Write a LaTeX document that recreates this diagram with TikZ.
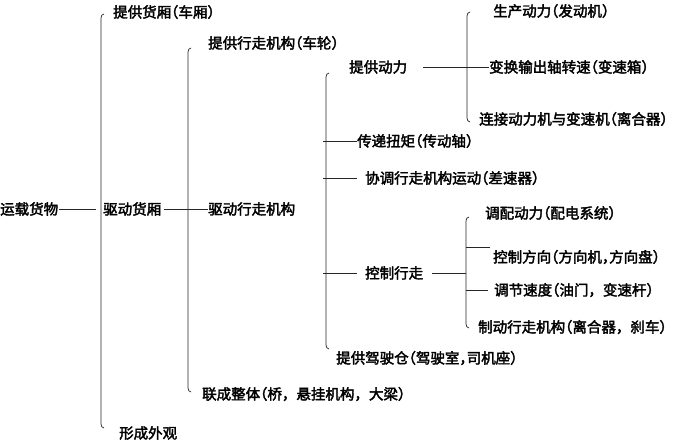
\documentclass[tikz,border=0pt]{standalone}
\usepackage{fontspec}
\newfontfamily\cjk{Noto Sans CJK SC}[FakeBold=2.5]
\usetikzlibrary{calc}
\newcommand\LPn{\kern-.5em（}
\newcommand\RPn{）\kern-.4em}
\newcommand\NCm{，\kern-.5em}
\newcommand\brk[2]{\draw[ln] ($(#1)+(3,-1)$) to[out=180,in=90] ($(#1)+(0,3)$) -- ($(#2)+(0,-3)$) to[out=-90,in=180] ($(#2)+(3,1)$);}
\begin{document}
\begin{tikzpicture}[x=1bp,y=-1bp,
  txt/.style={anchor=west,inner sep=0pt,font=\cjk\fontsize{14.5bp}{16bp}\selectfont},
  ln/.style={line width=0.7bp,black!85}]
\useasboundingbox (0,0) rectangle (674,441);
% level 0
\node[txt] (n0) at (0,209) {运载货物};
% level 1
\node[txt] (n1a) at (113,12) {提供货厢\LPn 车厢\RPn};
\node[txt] (n1b) at (103,209) {驱动货厢};
\node[txt] (n1c) at (119,433) {形成外观};
% level 2
\node[txt] (n2a) at (208,43) {提供行走机构\LPn 车轮\RPn};
\node[txt] (n2b) at (208,209) {驱动行走机构};
\node[txt] (n2c) at (202,394) {联成整体\LPn 桥，悬挂机构，大梁\RPn};
% level 3
\node[txt] (n3a) at (349,67) {提供动力};
\node[txt] (n3b) at (357,141) {传递扭矩\LPn 传动轴\RPn};
\node[txt] (n3c) at (365,178) {协调行走机构运动\LPn 差速器\RPn};
\node[txt] (n3d) at (365,273) {控制行走};
\node[txt] (n3e) at (336,358) {提供驾驶仓\LPn 驾驶室\NCm 司机座\RPn};
% level 4
\node[txt] (n4a) at (493,11) {生产动力\LPn 发动机\RPn};
\node[txt] (n4b) at (489,67) {变换输出轴转速\LPn 变速箱\RPn};
\node[txt] (n4c) at (479,119) {连接动力机与变速机\LPn 离合器\RPn};
\node[txt] (n5a) at (485,213) {调配动力\LPn 配电系统\RPn};
\node[txt] (n5b) at (493,257) {控制方向\LPn 方向机\NCm 方向盘\RPn};
\node[txt] (n5c) at (494,290) {调节速度\LPn 油门，变速杆\RPn};
\node[txt] (n5d) at (478,327) {制动行走机构\LPn 离合器，刹车\RPn};
% bracket ends
\coordinate (B1t) at (101,15);  \coordinate (B1b) at (101,427);
\coordinate (B2t) at (188,49);  \coordinate (B2b) at (188,391);
\coordinate (B3t) at (326,74);  \coordinate (B3b) at (326,348);
\coordinate (B4t) at (467,13);  \coordinate (B4b) at (467,121);
\coordinate (B5t) at (466,218); \coordinate (B5b) at (466,327);
\brk{B1t}{B1b}
\brk{B2t}{B2b}
\brk{B3t}{B3b}
\brk{B4t}{B4b}
\brk{B5t}{B5b}
% connectors
\draw[ln,shorten <=1bp,shorten >=5bp] (n0.east) -- (n0.east -| B1t);
\draw[ln,shorten <=3bp] (n1b.east) -- (n2b.west);
\draw[ln,shorten <=16bp] (n3a.east) -- (n4b.west);
\draw[ln] ($(n3b.west -| B3t)+(-3,0)$) -- (n3b.west);
\draw[ln] ($(n3c.west -| B3t)+(-3,0)$) -- ($(n3c.west)+(-8,0)$);
\draw[ln] ($(n3d.west -| B3t)+(-3,0)$) -- ($(n3d.west)+(-8,0)$);
\draw[ln,shorten <=9bp] (n3d.east) -- (n3d.east -| B5t);
\coordinate (t5s) at (466,247); \coordinate (t5e) at (490,247);
\draw[ln] (t5s) -- (t5e);
\draw[ln] (n5c.west -| B5t) -- ($(n5c.west)+(-6,0)$);
\end{tikzpicture}
\end{document}
